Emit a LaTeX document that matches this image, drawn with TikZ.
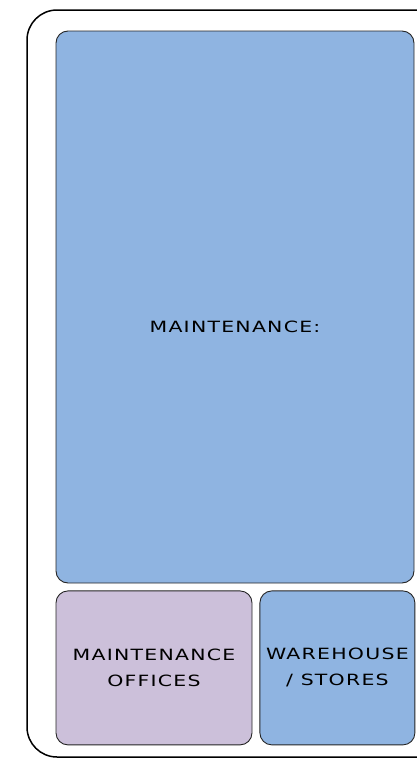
\documentclass[tikz,border=0pt]{standalone}
\usepackage{fontspec}
\setmainfont{DejaVu Sans}[FakeStretch=1.32, LetterSpace=8]
\usetikzlibrary{positioning}

\definecolor{maintblue}{RGB}{143,180,225}
\definecolor{officelilac}{RGB}{204,192,218}

\begin{document}
\begin{tikzpicture}[x=1pt, y=-1pt]

\tikzset{
  area/.style={
    rectangle, rounded corners=12pt,
    draw=black!85, line width=0.9pt, align=center,
    inner sep=0pt, font=\fontsize{15.5}{26}\selectfont
  },
  frame/.style={draw, line width=1.5pt, rounded corners=30pt}
}

\useasboundingbox (0,0) rectangle (416,763);

% ==========================
% Outer frame
% ==========================
\draw[frame] (27,10) rectangle (450,757);

% ==========================
% Main floor area + bottom row
% ==========================
\node[area, fill=maintblue, minimum width=358pt, minimum height=552pt] (maint) at (235,307) {};
\node (maintlbl) at (235,327) {\fontsize{15.5}{18}\selectfont MAINTENANCE:};

\node[area, fill=officelilac, minimum width=196pt, minimum height=154pt,
  below=7pt of maint.south west, anchor=north west] (offices) {MAINTENANCE\\OFFICES};
\node[area, fill=maintblue, minimum width=155pt, minimum height=154pt,
  right=7pt of offices] (stores) {WAREHOUSE\\/ STORES};

\end{tikzpicture}
\end{document}
